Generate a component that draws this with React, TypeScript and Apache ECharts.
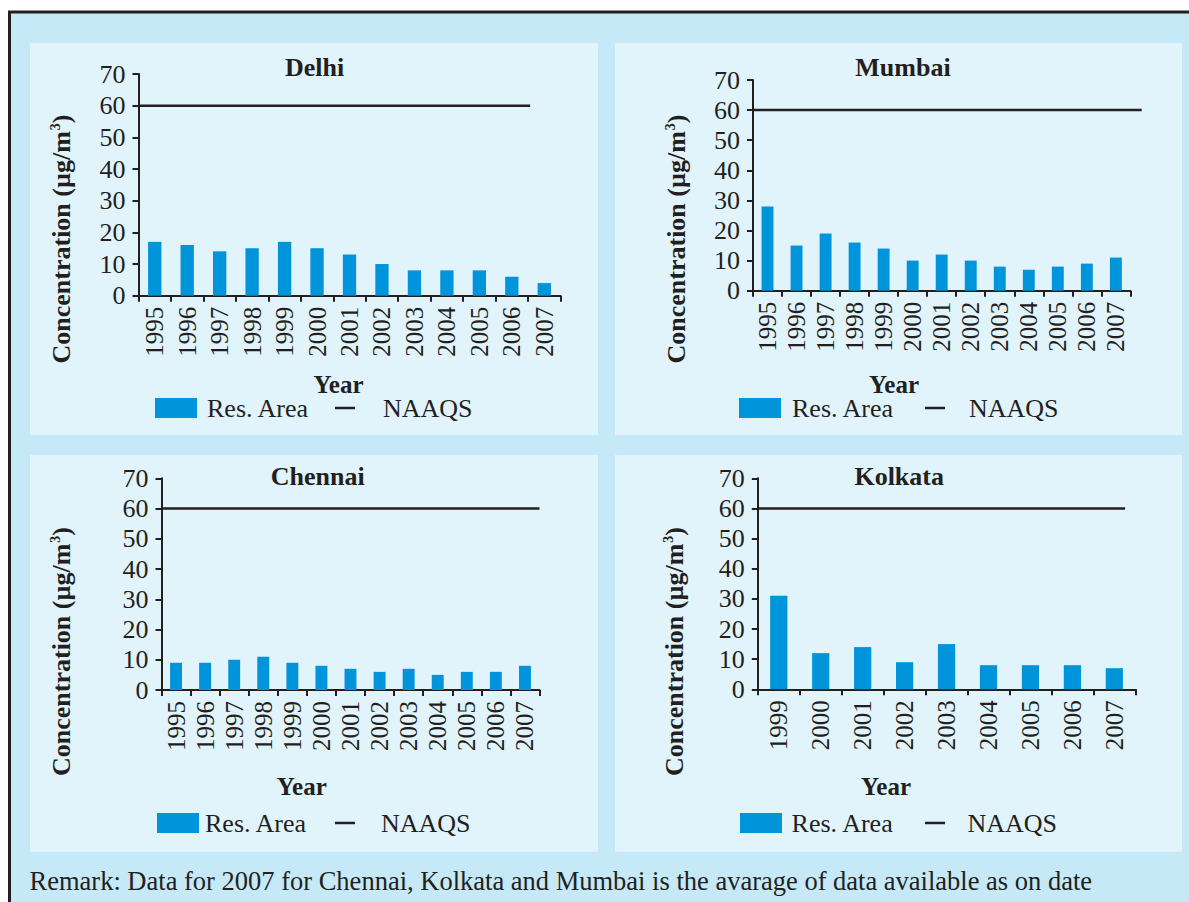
import React, { useEffect, useRef } from 'react';
import * as echarts from 'echarts';

// ---------- data ----------
const yearsFull = ['1995', '1996', '1997', '1998', '1999', '2000', '2001', '2002', '2003', '2004', '2005', '2006', '2007'];
const kolkataYears = ['1999', '2000', '2001', '2002', '2003', '2004', '2005', '2006', '2007'];
const delhiRes = [17, 16, 14, 15, 17, 15, 13, 10, 8, 8, 8, 6, 4];
const mumbaiRes = [28, 15, 19, 16, 14, 10, 12, 10, 8, 7, 8, 9, 11];
const chennaiRes = [9, 9, 10, 11, 9, 8, 7, 6, 7, 5, 6, 6, 8];
const kolkataRes = [31, 12, 14, 9, 15, 8, 8, 8, 7];
const naaqsLimit = 60;
const yMin = 0;
const yMax = 70;
const yStep = 10;
const seriesNames = ['Res. Area', 'NAAQS'];
const remark = 'Remark: Data for 2007 for Chennai, Kolkata and Mumbai is the avarage of data available as on date';

// ---------- styles / layout ----------
const FONT = '"Liberation Serif", "Times New Roman", Times, serif';
const INK = '#231f20';
const BAR = '#0095da';
const OUTER_BG = '#c6e9f8';
const PANEL_BG = '#e1f3fb';

const panels = [
  {
    title: 'Delhi', cats: yearsFull, values: delhiRes,
    box: [30, 43, 568, 392],
    grid: { left: 138.5, top: 74, width: 422, height: 221.7 },
    lineEnd: 0.928,
    titleXY: [314.5, 67.5], nameXY: [61.5, 239], yearXY: [338.5, 384],
    legend: { y: 408, rect: 155, text: 207, dash: 335, naaqs: 383 },
  },
  {
    title: 'Mumbai', cats: yearsFull, values: mumbaiRes,
    box: [615, 43, 567, 392],
    grid: { left: 753, top: 80, width: 377.4, height: 210.7 },
    lineEnd: 1.03,
    titleXY: [903, 67.5], nameXY: [676, 239], yearXY: [894, 384],
    legend: { y: 408, rect: 739, text: 792, dash: 925, naaqs: 969 },
  },
  {
    title: 'Chennai', cats: yearsFull, values: chennaiRes,
    box: [30, 455, 568, 396.7],
    grid: { left: 161.5, top: 478.3, width: 378, height: 211.7 },
    lineEnd: 1.0,
    titleXY: [317.7, 476], nameXY: [61, 651.5], yearXY: [301.8, 786],
    legend: { y: 823, rect: 157, text: 205, dash: 335, naaqs: 381 },
  },
  {
    title: 'Kolkata', cats: kolkataYears, values: kolkataRes,
    box: [615, 455, 567, 396.7],
    grid: { left: 757.8, top: 478.3, width: 377.5, height: 211 },
    lineEnd: 0.973,
    titleXY: [899.2, 476], nameXY: [674.5, 651.5], yearXY: [886, 786],
    legend: { y: 823, rect: 740, text: 791.6, dash: 925, naaqs: 967.4 },
  },
];

function buildOption() {
  const n = panels.length;
  const grid: any[] = panels.map((p) => ({ ...p.grid, containLabel: false }));
  // separate grids carrying the NAAQS reference line
  panels.forEach((p) => {
    grid.push({ left: p.grid.left, top: p.grid.top, height: p.grid.height, width: p.grid.width * p.lineEnd, containLabel: false });
  });
  const xAxis: any[] = [];
  const yAxis: any[] = [];
  const series: any[] = [];
  const graphic: any[] = [];

  graphic.push({
    type: 'rect', z: -10, silent: true,
    shape: { x: 9.5, y: 12, width: 1200, height: 900 },
    style: { fill: OUTER_BG, stroke: INK, lineWidth: 3 },
  });

  panels.forEach((p, i) => {
    xAxis.push({
      type: 'category', gridIndex: i, data: p.cats, boundaryGap: true,
      axisLine: { show: true, lineStyle: { color: INK, width: 2 } },
      axisTick: { show: true, length: 6, lineStyle: { color: INK, width: 2 } },
      axisLabel: { rotate: 90, fontSize: 25, fontFamily: FONT, color: INK, margin: 11, interval: 0 },
      splitLine: { show: false },
    });
    yAxis.push({
      type: 'value', gridIndex: i, min: yMin, max: yMax, interval: yStep,
      axisLine: { show: true, lineStyle: { color: INK, width: 2 } },
      axisTick: { show: true, length: 6, lineStyle: { color: INK, width: 2 } },
      axisLabel: { fontSize: 26, fontFamily: FONT, color: INK, margin: 13 },
      splitLine: { show: false },
    });
    series.push({
      type: 'bar', name: seriesNames[0], xAxisIndex: i, yAxisIndex: i,
      data: p.values, barWidth: '41%', itemStyle: { color: BAR },
    });

    // panel background
    graphic.push({
      type: 'rect', z: -9, silent: true,
      shape: { x: p.box[0], y: p.box[1], width: p.box[2], height: p.box[3] },
      style: { fill: PANEL_BG },
    });
    // title
    graphic.push({
      type: 'text', x: p.titleXY[0], y: p.titleXY[1],
      style: { text: p.title, font: `bold 26px ${FONT}`, fill: INK, align: 'center', verticalAlign: 'middle' },
    });
    // y name
    graphic.push({
      type: 'text', x: p.nameXY[0], y: p.nameXY[1], rotation: Math.PI / 2,
      style: {
        text: '{a|Concentration (µg/m}{s|3}{a|)}',
        fill: INK, align: 'center', verticalAlign: 'middle',
        rich: {
          a: { fontFamily: FONT, fontSize: 26, fontWeight: 'bold', fill: INK },
          s: { fontFamily: FONT, fontSize: 14, fontWeight: 'bold', fill: INK, verticalAlign: 'top', padding: [0, 0, 10, 1] },
        },
      },
    });
    // x name
    graphic.push({
      type: 'text', x: p.yearXY[0], y: p.yearXY[1],
      style: { text: 'Year', font: `bold 25px ${FONT}`, fill: INK, align: 'center', verticalAlign: 'middle' },
    });
    // legend
    const L = p.legend;
    graphic.push({
      type: 'rect', shape: { x: L.rect, y: L.y - 10, width: 42, height: 20 }, style: { fill: BAR },
    });
    graphic.push({
      type: 'text', x: L.text, y: L.y,
      style: { text: seriesNames[0], font: `26px ${FONT}`, fill: INK, align: 'left', verticalAlign: 'middle' },
    });
    graphic.push({
      type: 'line', shape: { x1: L.dash, y1: L.y, x2: L.dash + 20, y2: L.y }, style: { stroke: INK, lineWidth: 2.5 },
    });
    graphic.push({
      type: 'text', x: L.naaqs, y: L.y,
      style: { text: seriesNames[1], font: `26px ${FONT}`, fill: INK, align: 'left', verticalAlign: 'middle' },
    });
  });

  // NAAQS line axes + series (one extra grid per panel)
  panels.forEach((p, i) => {
    const g = n + i;
    xAxis.push({ type: 'value', gridIndex: g, min: 0, max: 1, show: false });
    yAxis.push({ type: 'value', gridIndex: g, min: yMin, max: yMax, interval: yStep, show: false });
    series.push({
      type: 'line', name: seriesNames[1], xAxisIndex: g, yAxisIndex: g,
      data: [[0, naaqsLimit], [1, naaqsLimit]],
      symbol: 'none', clip: false, z: 3, lineStyle: { color: INK, width: 2.5 },
    });
  });

  graphic.push({
    type: 'text', x: 29.5, y: 881,
    style: { text: remark, font: `26.5px ${FONT}`, fill: INK, align: 'left', verticalAlign: 'middle' },
  });

  return {
    animation: false,
    backgroundColor: '#ffffff',
    grid, xAxis, yAxis, series, graphic,
  };
}

export default function App() {
  const ref = useRef<HTMLDivElement>(null);
  useEffect(() => {
    if (!ref.current) return;
    const chart = echarts.init(ref.current, undefined, { renderer: 'svg' });
    chart.setOption(buildOption() as any);
    return () => chart.dispose();
  }, []);
  return <div ref={ref} style={{ position: 'fixed', left: 0, top: 0, width: 1189, height: 902 }} />;
}
